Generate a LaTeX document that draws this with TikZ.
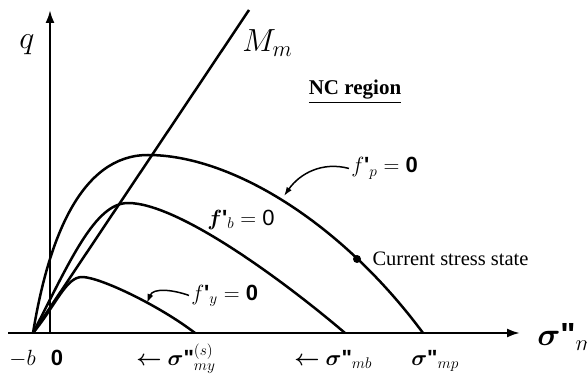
\RequirePackage{fix-cm}
\documentclass[tikz,border=0pt]{standalone}
\usepackage{amsmath}
\usepackage{fontspec}
\newfontfamily\ars{Liberation Sans}
\newfontfamily\tnr{Liberation Serif}
\usetikzlibrary{arrows.meta, positioning}
\newcommand{\sdp}{\boldsymbol{\sigma}\text{\ars\bfseries\symbol{34}}}
\newcommand{\pr}{\text{\ars\bfseries\symbol{39}}}
\tikzset{
  every picture/.style={x=1pt, y=1pt, line width=2.5pt},
  axis/.style={line width=2.2pt, -{Latex[length=13pt, width=9pt]}},
  curve/.style={line join=round},
  pointer/.style={line width=1.5pt, -{Latex[length=9pt, width=6pt]}},
  dot/.style={circle, fill, inner sep=0pt, minimum size=8pt},
  lbl/.style={inner sep=1pt, font=\fontsize{22}{26}\selectfont},
  big/.style={inner sep=1pt, font=\fontsize{32}{36}\selectfont},
  note/.style={inner sep=1pt, font=\tnr\fontsize{20.5}{24}\selectfont},
}

\begin{document}
\begin{tikzpicture}
  \useasboundingbox (0,0) rectangle (587,381);
  \coordinate (b) at (33,48);
  \coordinate (o) at (50,48);
  \coordinate (xs) at (8,48);
  \coordinate (xe) at (520,48);
  \coordinate (ye) at (50,371);
  \coordinate (mtop) at (249,371);
  \coordinate (pk) at (148,226);
  \coordinate (bk) at (128,178);
  \coordinate (yk) at (82,104);
  \coordinate (pe) at (423,48);
  \coordinate (be) at (345,48);
  \coordinate (ys) at (195,48);
  \draw[axis] (xs) -- (xe);
  \draw[axis] (o) -- (ye);
  \draw (b) -- (mtop);
  \draw[curve] (b) .. controls (48,140) and (80,226) .. (pk) .. controls (230,226) and (340,160) .. (pe);
  \draw[curve] (b) .. controls (70,120) and (95,178) .. (bk) .. controls (180,178) and (290,95) .. (be);
  \draw[curve] (b) .. controls (56,76) and (66,104) .. (yk) .. controls (100,104) and (160,75) .. (ys);
  \node[big] (q) at (27,336) {$q$};
  \node[big, anchor=west] (mm) at (240,338) {$M_m$};
  \node[note, font=\tnr\bfseries\fontsize{21}{24}\selectfont] (nc) at (355,289) {\underline{NC region}};
  \node[dot] (cur) at (357,122) {};
  \node[note, right=8pt of cur] (curlbl) {Current stress state};
  \node[lbl, anchor=base west] (fp) at (349,208) {$f\pr_p = \text{\ars\bfseries 0}$};
  \node[lbl, anchor=base west] (fb) at (205,156) {$\boldsymbol{f}\pr_b = \text{\ars 0}$};
  \node[lbl, anchor=base west] (fy) at (189,81) {$f\pr_y = \text{\ars\bfseries 0}$};
  \coordinate (tp) at (284,185);
  \coordinate (ty) at (147,78);
  \draw[pointer] (fp.west) to[out=165, in=55] (tp);
  \draw[pointer] (fy.west) to[out=160, in=68] (ty);
  \node[lbl, anchor=base east] (mb) at (38,16) {$-b$};
  \node[lbl, anchor=base] (zero) at (57,16) {\ars\bfseries 0};
  \node[lbl, anchor=base west] (smy) at (134,16) {$\boldsymbol{\leftarrow}\sdp^{(s)}_{my}$};
  \node[lbl, anchor=base west] (smb) at (292,16) {$\boldsymbol{\leftarrow}\sdp_{mb}$};
  \node[lbl, anchor=base west] (smp) at (409,16) {$\sdp_{mp}$};
  \node[big, anchor=west] (sm) at (535,44) {$\sdp_m$};
\end{tikzpicture}
\end{document}
